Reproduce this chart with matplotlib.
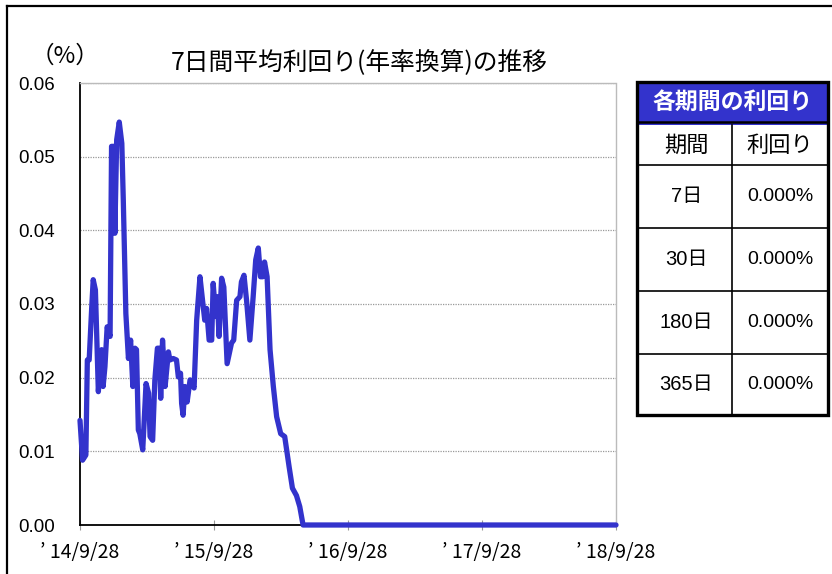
import numpy as np
import matplotlib
matplotlib.use("Agg")
import matplotlib.pyplot as plt
from matplotlib.patches import Rectangle
from matplotlib.lines import Line2D

plt.rcParams['font.family'] = ['Liberation Sans', 'Noto Sans CJK JP', 'DejaVu Sans']

# ---- data ----
start_date = np.datetime64('2014-09-28')
day_offsets = [0, 7, 16, 20, 25, 32, 36, 42, 50, 59, 63, 68, 74, 82, 86, 93, 95, 100, 107, 114,
               118, 125, 132, 138, 144, 150, 154, 159, 163, 171, 180, 187, 191, 198, 204, 211,
               216, 220, 225, 232, 241, 245, 254, 263, 268, 274, 277, 281, 286, 292, 300, 311,
               318, 327, 334, 340, 345, 352, 359, 363, 370, 374, 379, 386, 392, 401, 413, 419,
               427, 436, 440, 447, 454, 463, 472, 479, 486, 492, 498, 503, 510, 518, 527, 536,
               547, 558, 570, 579, 590, 599, 608, 1461]
yields_7d = [0.0142, 0.0088, 0.0095, 0.0224, 0.0224, 0.0296, 0.0333, 0.0319, 0.0181, 0.0238,
             0.0188, 0.0215, 0.0269, 0.0256, 0.0514, 0.0514, 0.0396, 0.0523, 0.0547, 0.0518,
             0.0441, 0.0287, 0.0226, 0.0251, 0.0188, 0.0240, 0.0238, 0.0129, 0.0124, 0.0102,
             0.0192, 0.0179, 0.0120, 0.0115, 0.0197, 0.0240, 0.0240, 0.0172, 0.0251, 0.0188,
             0.0235, 0.0224, 0.0226, 0.0224, 0.0201, 0.0206, 0.0165, 0.0149, 0.0188, 0.0167,
             0.0197, 0.0186, 0.0278, 0.0337, 0.0305, 0.0278, 0.0294, 0.0251, 0.0251, 0.0328,
             0.0283, 0.0310, 0.0256, 0.0335, 0.0323, 0.0219, 0.0247, 0.0251, 0.0305, 0.0310,
             0.0330, 0.0339, 0.0305, 0.0251, 0.0310, 0.0360, 0.0376, 0.0337, 0.0337, 0.0357,
             0.0337, 0.0238, 0.0188, 0.0147, 0.0124, 0.0120, 0.0079, 0.0050, 0.0040, 0.0025,
             0.0, 0.0]
tick_dates = ['2014-09-28', '2015-09-28', '2016-09-28', '2017-09-28', '2018-09-28']
tick_labels = ['’ 14/9/28', '’ 15/9/28', '’ 16/9/28', '’ 17/9/28', '’ 18/9/28']
y_ticks = [0.00, 0.01, 0.02, 0.03, 0.04, 0.05, 0.06]

title = '7日間平均利回り(年率換算)の推移'
unit_label = '（%）'
table_title = '各期間の利回り'
table_headers = ['期間', '利回り']
periods = ['7日', '30日', '180日', '365日']
period_yields = [0.000, 0.000, 0.000, 0.000]

BLUE = '#3333CC'
W, H = 832, 574

def fx(x):
    return x / W

def fy(y):
    return 1 - y / H

fig = plt.figure(figsize=(W / 100, H / 100), dpi=100)
fig.patch.set_facecolor('white')

ax = fig.add_axes([fx(80), fy(525), fx(616) - fx(80), fy(83) - fy(525)])
dates = start_date + np.array(day_offsets).astype('timedelta64[D]')
ax.plot(dates.astype('datetime64[D]').astype(object), yields_7d, color=BLUE, lw=3.8,
        solid_joinstyle='round', solid_capstyle='round', zorder=3, clip_on=False)

tick_dt = [np.datetime64(d).astype(object) for d in tick_dates]
ax.set_xlim(tick_dt[0], tick_dt[-1])
ax.set_ylim(0, 0.06)
ax.set_xticks(tick_dt)
ax.set_xticklabels(tick_labels, family=['Noto Sans CJK JP'], fontsize=14)
ax.set_yticks(y_ticks)
ax.set_yticklabels([f'{v:.2f}' for v in y_ticks], fontsize=13.5)
ax.tick_params(axis='y', length=0, pad=18)
ax.tick_params(axis='x', direction='inout', length=7, color='#999999', pad=9)
ax.grid(axis='y', color='#999999', lw=0.9, ls=(0, (1, 1)))
ax.set_axisbelow(True)
for s in ['left', 'bottom']:
    ax.spines[s].set_color('black')
    ax.spines[s].set_linewidth(1.3)
for s in ['top', 'right']:
    ax.spines[s].set_color('#bbbbbb')
    ax.spines[s].set_linewidth(1.0)
ax.spines['top'].set_linestyle((0, (1, 1)))

fig.text(fx(359), fy(63), title, ha='center', va='center', fontsize=17.8,
         family=['Noto Sans CJK JP'])
fig.text(fx(65), fy(56), unit_label, ha='center', va='center', fontsize=17,
         family=['Noto Sans CJK JP'])

# outer frame
fig.add_artist(Line2D([fx(7), fx(7)], [0, fy(5.5)], color='black', lw=1.6))
fig.add_artist(Line2D([fx(7), 1], [fy(5.5), fy(5.5)], color='black', lw=1.6))

# ---- table ----
tl, tr, tt, tb = 637, 828, 82, 415
col_x = 732
row_edges = [125, 165, 228, 291, 354, 415]
fig.add_artist(Rectangle((fx(tl), fy(125)), fx(tr) - fx(tl), fy(tt) - fy(125),
                         facecolor=BLUE, edgecolor='none'))
fig.add_artist(Line2D([fx(tl), fx(tr)], [fy(121.5), fy(121.5)], color='black', lw=1.8))
for y in row_edges[1:-1]:
    fig.add_artist(Line2D([fx(tl), fx(tr)], [fy(y), fy(y)], color='black', lw=1.2))
fig.add_artist(Line2D([fx(col_x), fx(col_x)], [fy(125), fy(tb)], color='black', lw=1.2))
fig.add_artist(Rectangle((fx(tl), fy(tb)), fx(tr) - fx(tl), fy(tt) - fy(tb),
                         facecolor='none', edgecolor='black', lw=2.4))

fig.text(fx((tl + tr) / 2), fy(102), table_title, ha='center', va='center', fontsize=16.5,
         color='white', fontweight='bold', family=['Noto Sans CJK JP'])
c1, c2 = (tl + col_x) / 2 + 2, (col_x + tr) / 2
fig.text(fx(c1), fy(145), table_headers[0], ha='center', va='center', fontsize=16,
         family=['Noto Sans CJK JP'])
fig.text(fx(c2), fy(145), table_headers[1], ha='center', va='center', fontsize=16,
         family=['Noto Sans CJK JP'])
for i, (p, v) in enumerate(zip(periods, period_yields)):
    yc = (row_edges[i + 1] + row_edges[i + 2]) / 2
    fig.text(fx(c1), fy(yc), p, ha='center', va='center', fontsize=14.5)
    fig.text(fx(c2), fy(yc), f'{v:.3f}%', ha='center', va='center', fontsize=14)

fig.savefig('out.png', dpi=100)
